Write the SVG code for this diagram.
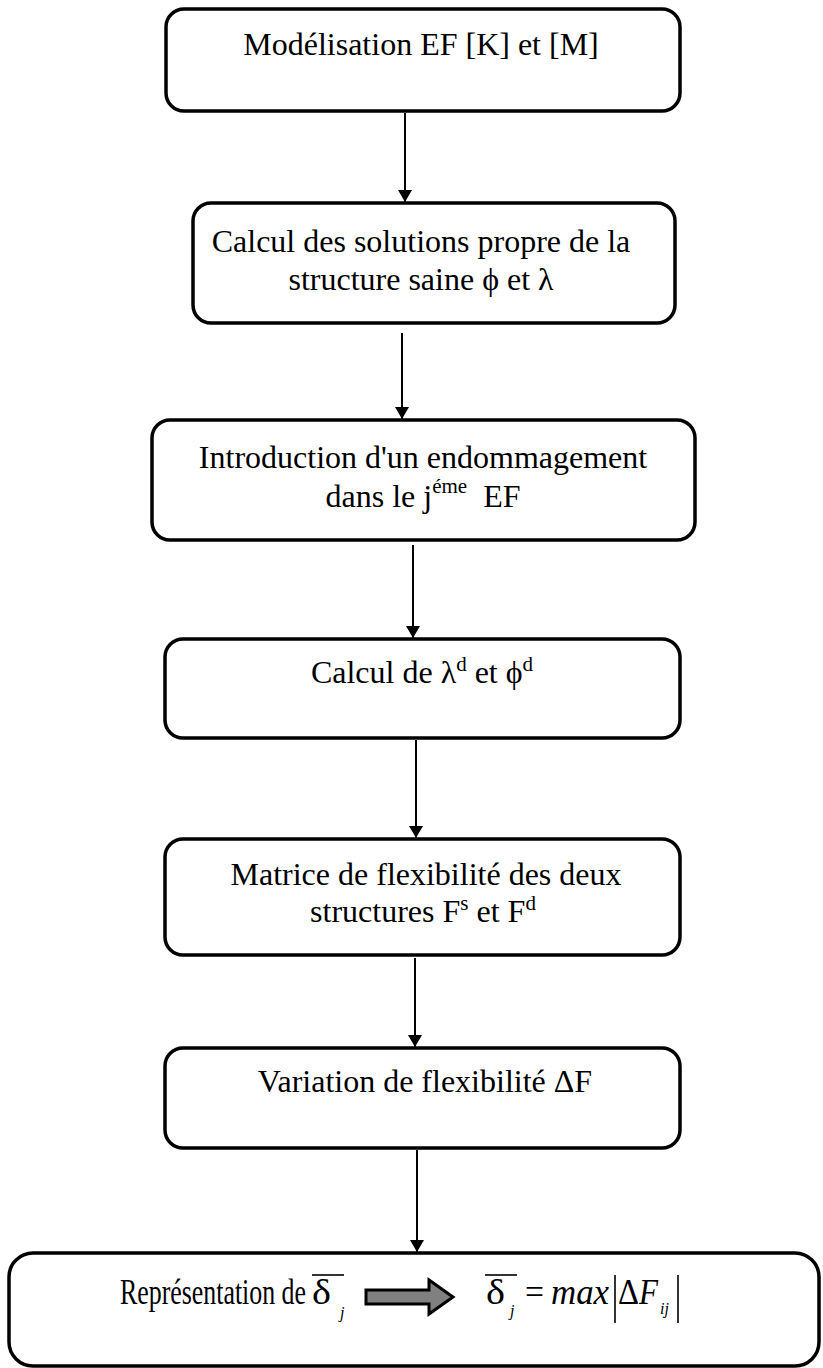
<svg xmlns="http://www.w3.org/2000/svg" width="823" height="1368" viewBox="0 0 823 1368">
  <style>
    .box { fill: #ffffff; stroke: #000000; stroke-width: 3.5; }
    .lbl { font-family: "Liberation Serif", "Times New Roman", serif; font-size: 32px; fill: #000000; text-anchor: middle; }
    .sup { font-size: 21px; }
    .eq { font-family: "Liberation Serif", "Times New Roman", serif; font-size: 35px; fill: #000000; }
    .it { font-style: italic; }
    .sub { font-family: "Liberation Serif", "Times New Roman", serif; font-size: 16px; font-style: italic; fill: #000000; }
    .conn { stroke: #000000; stroke-width: 2; fill: none; marker-end: url(#head); }
    .rule { stroke: #000000; stroke-width: 1.6; fill: none; }
  </style>
  <defs>
    <marker id="head" viewBox="0 0 12 14" refX="12" refY="7" markerWidth="12" markerHeight="14" markerUnits="userSpaceOnUse" orient="auto">
      <path d="M0,0 L12,7 L0,14 Z" fill="#000000"/>
    </marker>
  </defs>

  <rect width="823" height="1368" fill="#ffffff"/>

  <!-- flow connectors -->
  <g id="connectors">
    <line class="conn" x1="405" y1="113" x2="405" y2="202"/>
    <line class="conn" x1="402" y1="333" x2="402" y2="419"/>
    <line class="conn" x1="413" y1="545" x2="413" y2="638"/>
    <line class="conn" x1="416" y1="740" x2="416" y2="838"/>
    <line class="conn" x1="415" y1="958" x2="415" y2="1047"/>
    <line class="conn" x1="417" y1="1150" x2="417" y2="1252"/>
  </g>

  <g id="n1">
    <rect class="box" x="166" y="9" width="514" height="102" rx="18"/>
    <text class="lbl" x="421" y="55">Modélisation EF [K] et [M]</text>
  </g>

  <g id="n2">
    <rect class="box" x="193" y="203" width="482" height="120" rx="18"/>
    <text class="lbl" x="421" y="252">Calcul des solutions propre de la</text>
    <text class="lbl" x="421" y="290">structure saine ϕ et λ</text>
  </g>

  <g id="n3">
    <rect class="box" x="152" y="420" width="543" height="120" rx="18"/>
    <text class="lbl" x="423" y="468">Introduction d'un endommagement</text>
    <text class="lbl" x="423" y="507">dans le j<tspan class="sup" dy="-14">éme</tspan><tspan dy="14">&#160; EF</tspan></text>
  </g>

  <g id="n4">
    <rect class="box" x="165" y="639" width="515" height="99" rx="18"/>
    <text class="lbl" x="422" y="683">Calcul de λ<tspan class="sup" dy="-12">d</tspan><tspan dy="12"> et ϕ</tspan><tspan class="sup" dy="-12">d</tspan></text>
  </g>

  <g id="n5">
    <rect class="box" x="165" y="839" width="515" height="116" rx="18"/>
    <text class="lbl" x="426" y="885">Matrice de flexibilité des deux</text>
    <text class="lbl" x="423" y="922">structures F<tspan class="sup" dy="-12">s</tspan><tspan dy="12"> et F</tspan><tspan class="sup" dy="-12">d</tspan></text>
  </g>

  <g id="n6">
    <rect class="box" x="165" y="1048" width="515" height="100" rx="18"/>
    <text class="lbl" x="425" y="1092">Variation de flexibilité ΔF</text>
  </g>

  <g id="n7">
    <rect class="box" x="9" y="1253" width="810" height="113" rx="24"/>
    <text class="eq" x="120" y="1304" textLength="186" lengthAdjust="spacingAndGlyphs">Représentation de</text>
    <!-- delta_j with overbar -->
    <text class="eq" x="312" y="1304" textLength="19" lengthAdjust="spacingAndGlyphs">δ</text>
    <line class="rule" x1="312" y1="1275" x2="344" y2="1275"/>
    <text class="sub" x="340" y="1318">j</text>
    <!-- block arrow -->
    <polygon points="366,1290 429,1290 429,1280 453,1297 429,1314 429,1304 366,1304" fill="#808080" stroke="#000000" stroke-width="3" stroke-linejoin="miter"/>
    <!-- delta_j = max|ΔF_ij| -->
    <text class="eq" x="486" y="1304" textLength="19" lengthAdjust="spacingAndGlyphs">δ</text>
    <line class="rule" x1="485" y1="1275" x2="517" y2="1275"/>
    <text class="sub" x="510" y="1316">j</text>
    <text class="eq" x="525" y="1304" textLength="19" lengthAdjust="spacingAndGlyphs">=</text>
    <text class="eq it" x="551" y="1304" textLength="58" lengthAdjust="spacingAndGlyphs">max</text>
    <line class="rule" x1="615" y1="1275" x2="615" y2="1323"/>
    <text class="eq" x="618" y="1304" textLength="21" lengthAdjust="spacingAndGlyphs">Δ</text>
    <text class="eq it" x="639" y="1304" textLength="19" lengthAdjust="spacingAndGlyphs">F</text>
    <text class="sub" x="660" y="1314">ij</text>
    <line class="rule" x1="678" y1="1275" x2="678" y2="1323"/>
  </g>
</svg>
